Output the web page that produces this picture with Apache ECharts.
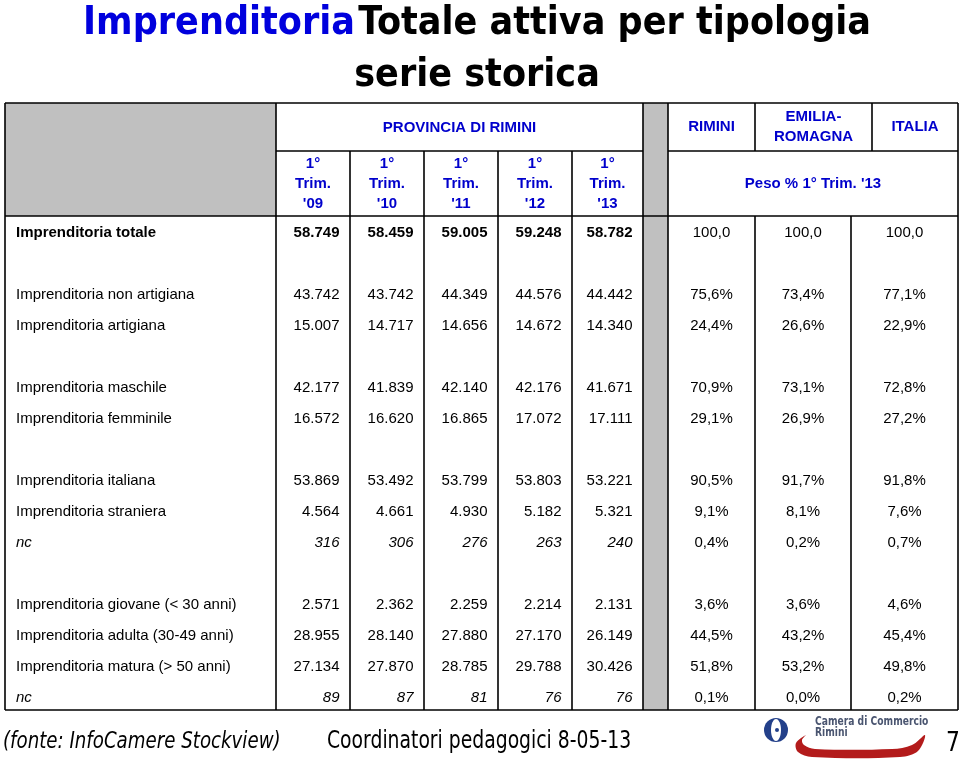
<!DOCTYPE html>
<html>
<head>
<meta charset="utf-8">
<script src="https://cdn.jsdelivr.net/npm/echarts@6/dist/echarts.min.js"></script>
<style>
html,body{margin:0;padding:0;background:#fff;}
#chart{width:960px;height:763px;}
</style>
</head>
<body>
<div id="chart"></div>
<script>
// ---------- DATA ----------
const rowLabels = [
  'Imprenditoria totale',
  'Imprenditoria non artigiana',
  'Imprenditoria artigiana',
  'Imprenditoria maschile',
  'Imprenditoria femminile',
  'Imprenditoria italiana',
  'Imprenditoria straniera',
  'nc',
  'Imprenditoria giovane (< 30 anni)',
  'Imprenditoria adulta (30-49 anni)',
  'Imprenditoria matura (> 50 anni)',
  'nc'
];
const periods = ["1°\nTrim.\n'09", "1°\nTrim.\n'10", "1°\nTrim.\n'11", "1°\nTrim.\n'12", "1°\nTrim.\n'13"];
const trim09 = [58749, 43742, 15007, 42177, 16572, 53869, 4564, 316, 2571, 28955, 27134, 89];
const trim10 = [58459, 43742, 14717, 41839, 16620, 53492, 4661, 306, 2362, 28140, 27870, 87];
const trim11 = [59005, 44349, 14656, 42140, 16865, 53799, 4930, 276, 2259, 27880, 28785, 81];
const trim12 = [59248, 44576, 14672, 42176, 17072, 53803, 5182, 263, 2214, 27170, 29788, 76];
const trim13 = [58782, 44442, 14340, 41671, 17111, 53221, 5321, 240, 2131, 26149, 30426, 76];
const areas = ['RIMINI', 'EMILIA-\nROMAGNA', 'ITALIA'];
const pesoRimini = [100.0, 75.6, 24.4, 70.9, 29.1, 90.5, 9.1, 0.4, 3.6, 44.5, 51.8, 0.1];
const pesoEmilia = [100.0, 73.4, 26.6, 73.1, 26.9, 91.7, 8.1, 0.2, 3.6, 43.2, 53.2, 0.0];
const pesoItalia = [100.0, 77.1, 22.9, 72.8, 27.2, 91.8, 7.6, 0.7, 4.6, 45.4, 49.8, 0.2];
const groupHeader = 'PROVINCIA DI RIMINI';
const pesoHeader = "Peso % 1° Trim. '13";
const titleBlue = 'Imprenditoria';
const titleRest = 'Totale attiva per tipologia';
const titleLine2 = 'serie storica';
const sourceText = '(fonte: InfoCamere Stockview)';
const footerText = 'Coordinatori pedagogici 8-05-13';
const pageNum = '7';

// ---------- LAYOUT ----------
const rowSlots = [0, 2, 3, 5, 6, 8, 9, 10, 12, 13, 14, 15];
const nSlots = 16;
const FONT = '"Liberation Sans", Arial, sans-serif';
const NARROW = '"DejaVu Sans Condensed", "DejaVu Sans", sans-serif';
const BLUE = '#0000cc';
const colRight = [350, 424, 498, 572, 643];
const pesoCenters = [711.5, 803, 904.5];

function fmtThousands(n) {
  if (n >= 1000) {
    const r = String(n % 1000).padStart(3, '0');
    return Math.floor(n / 1000) + '.' + r;
  }
  return String(n);
}
function fmtPct(v, i) {
  const s = v.toFixed(1).replace('.', ',');
  return i === 0 ? s : s + '%';
}

const ySlots = Array.from({length: nSlots}, (_, i) => 's' + i);

function textSeries(name, items) {
  return {
    type: 'custom',
    name: name,
    coordinateSystem: 'cartesian2d',
    silent: true,
    data: items.map(it => [it.x, it.slot]),
    renderItem: function (params, api) {
      const it = items[params.dataIndex];
      const p = api.coord([api.value(0), api.value(1)]);
      return {
        type: 'text',
        x: p[0], y: p[1],
        style: {
          text: it.text,
          fill: '#000',
          font: (it.italic ? 'italic ' : '') + (it.bold ? 'bold ' : '') + '15px ' + FONT,
          align: it.align,
          verticalAlign: 'middle'
        }
      };
    }
  };
}

const series = [];
series.push(textSeries('labels', rowLabels.map((t, i) => ({
  x: 16, slot: ySlots[rowSlots[i]], text: t, align: 'left',
  bold: i === 0, italic: t === 'nc'
}))));
[trim09, trim10, trim11, trim12, trim13].forEach((arr, c) => {
  series.push(textSeries('p' + c, arr.map((v, i) => ({
    x: colRight[c] - 10.5, slot: ySlots[rowSlots[i]], text: fmtThousands(v), align: 'right',
    bold: i === 0, italic: rowLabels[i] === 'nc'
  }))));
});
[pesoRimini, pesoEmilia, pesoItalia].forEach((arr, c) => {
  series.push(textSeries('w' + c, arr.map((v, i) => ({
    x: pesoCenters[c], slot: ySlots[rowSlots[i]], text: fmtPct(v, i), align: 'center',
    bold: false, italic: false
  }))));
});

// ---------- FRAME ----------
const LW = 1.6;
const g = [];
function vline(x, y1, y2) { g.push({type: 'line', shape: {x1: x, y1: y1, x2: x, y2: y2}, style: {stroke: '#000', lineWidth: LW}, z: 10}); }
function hline(y, x1, x2) { g.push({type: 'line', shape: {x1: x1, y1: y, x2: x2, y2: y}, style: {stroke: '#000', lineWidth: LW}, z: 10}); }
g.push({type: 'rect', shape: {x: 5, y: 103, width: 271, height: 113}, style: {fill: '#c0c0c0'}, z: 1});
g.push({type: 'rect', shape: {x: 643, y: 103, width: 25, height: 607}, style: {fill: '#c0c0c0'}, z: 1});
vline(5, 103, 710); vline(276, 103, 710);
[350, 424, 498, 572].forEach(x => vline(x, 151, 710));
vline(643, 103, 710); vline(668, 103, 710);
vline(755, 103, 151); vline(755, 216, 710);
vline(872, 103, 151); vline(851, 216, 710);
vline(958, 103, 710);
hline(103, 5, 958); hline(151, 276, 643); hline(151, 668, 958);
hline(216, 5, 958); hline(710, 5, 958);

function htext(x, y, t) {
  g.push({type: 'text', x: x, y: y, z: 11, style: {text: t, fill: BLUE, font: 'bold 15px ' + FONT, align: 'center', verticalAlign: 'middle', lineHeight: 20}});
}
htext(459.5, 128, groupHeader);
const headCenters = [313, 387, 461, 535, 607.5];
periods.forEach((p, i) => htext(headCenters[i], 184, p));
const areaCenters = [711.5, 813.5, 915];
areas.forEach((a, i) => htext(areaCenters[i], 127, a));
htext(813, 184, pesoHeader);

// title
g.push({type: 'text', x: 477, y: -2, z: 11, style: {
  text: '{a|' + titleBlue + '} {b|' + titleRest + '}\n{b|' + titleLine2 + '}',
  align: 'center',
  verticalAlign: 'top',
  rich: {
    a: {fill: '#0000dd', font: 'bold 39px ' + NARROW, lineHeight: 52, align: 'center'},
    b: {fill: '#000', font: 'bold 39px ' + NARROW, lineHeight: 52, align: 'center'}
  }
}});
// footer
g.push({type: 'text', x: 3, y: 742, scaleX: 0.88, style: {text: sourceText, fill: '#000', font: 'italic 23px ' + NARROW, verticalAlign: 'middle'}});
g.push({type: 'text', x: 327, y: 742, scaleX: 0.87, style: {text: footerText, fill: '#000', font: '24px ' + NARROW, verticalAlign: 'middle'}});
g.push({type: 'text', x: 946, y: 744, scaleX: 0.9, style: {text: pageNum, fill: '#000', font: '27px ' + NARROW, verticalAlign: 'middle'}});
// logo
g.push({type: 'circle', shape: {cx: 776, cy: 730, r: 12}, style: {fill: '#23408a'}});
g.push({type: 'ellipse', shape: {cx: 776, cy: 730, rx: 5, ry: 11}, style: {fill: '#fff'}});
g.push({type: 'circle', shape: {cx: 777, cy: 730, r: 2}, style: {fill: '#23408a'}});
g.push({type: 'polygon', shape: {smooth: 0.35, points: [
  [806, 735], [796, 743], [798, 752], [812, 757], [900, 757], [918, 751], [925, 735],
  [912, 745], [892, 749], [815, 749], [804, 745], [802, 740]
]}, style: {fill: '#b31b1b'}});
g.push({type: 'text', x: 815, y: 722, scaleX: 0.85, style: {text: 'Camera di Commercio', fill: '#4a5570', font: 'bold 12px ' + NARROW, verticalAlign: 'middle'}});
g.push({type: 'text', x: 815, y: 733, scaleX: 0.85, style: {text: 'Rimini', fill: '#4a5570', font: 'bold 12px ' + NARROW, verticalAlign: 'middle'}});

const chart = echarts.init(document.getElementById('chart'));
chart.setOption({
  animation: false,
  backgroundColor: '#fff',
  grid: {left: 0, right: 0, top: 217, height: 496},
  xAxis: {type: 'value', min: 0, max: 960, show: false},
  yAxis: {type: 'category', data: ySlots, inverse: true, show: false},
  series: series,
  graphic: g
});
</script>
</body>
</html>
